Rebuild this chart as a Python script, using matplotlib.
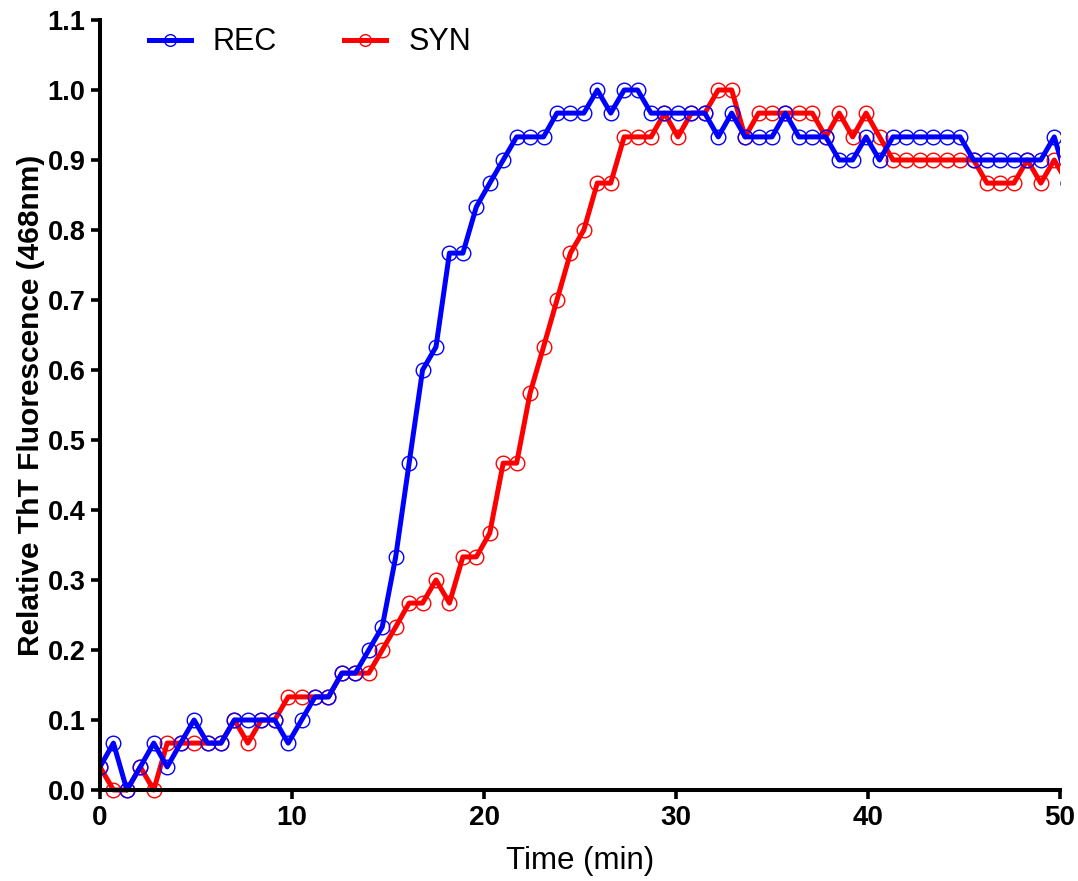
import matplotlib
matplotlib.use("Agg")
import matplotlib.pyplot as plt
from matplotlib.patches import Rectangle

# Time points (min), sampled every 0.7 min
time_min = [0.0, 0.7, 1.4, 2.1, 2.8, 3.5, 4.2, 4.9, 5.6, 6.3,
            7.0, 7.7, 8.4, 9.1, 9.8, 10.5, 11.2, 11.9, 12.6, 13.3,
            14.0, 14.7, 15.4, 16.1, 16.8, 17.5, 18.2, 18.9, 19.6, 20.3,
            21.0, 21.7, 22.4, 23.1, 23.8, 24.5, 25.2, 25.9, 26.6, 27.3,
            28.0, 28.7, 29.4, 30.1, 30.8, 31.5, 32.2, 32.9, 33.6, 34.3,
            35.0, 35.7, 36.4, 37.1, 37.8, 38.5, 39.2, 39.9, 40.6, 41.3,
            42.0, 42.7, 43.4, 44.1, 44.8, 45.5, 46.2, 46.9, 47.6, 48.3,
            49.0, 49.7, 50.4]

rec = [0.033, 0.067, 0.0, 0.033, 0.067, 0.033, 0.067, 0.1, 0.067, 0.067,
       0.1, 0.1, 0.1, 0.1, 0.067, 0.1, 0.133, 0.133, 0.167, 0.167,
       0.2, 0.233, 0.333, 0.467, 0.6, 0.633, 0.767, 0.767, 0.833, 0.867,
       0.9, 0.933, 0.933, 0.933, 0.967, 0.967, 0.967, 1.0, 0.967, 1.0,
       1.0, 0.967, 0.967, 0.967, 0.967, 0.967, 0.933, 0.967, 0.933, 0.933,
       0.933, 0.967, 0.933, 0.933, 0.933, 0.9, 0.9, 0.933, 0.9, 0.933,
       0.933, 0.933, 0.933, 0.933, 0.933, 0.9, 0.9, 0.9, 0.9, 0.9,
       0.9, 0.933, 0.867]

syn = [0.033, 0.0, 0.0, 0.033, 0.0, 0.067, 0.067, 0.067, 0.067, 0.067,
       0.1, 0.067, 0.1, 0.1, 0.133, 0.133, 0.133, 0.133, 0.167, 0.167,
       0.167, 0.2, 0.233, 0.267, 0.267, 0.3, 0.267, 0.333, 0.333, 0.367,
       0.467, 0.467, 0.567, 0.633, 0.7, 0.767, 0.8, 0.867, 0.867, 0.933,
       0.933, 0.933, 0.967, 0.933, 0.967, 0.967, 1.0, 1.0, 0.933, 0.967,
       0.967, 0.967, 0.967, 0.967, 0.933, 0.967, 0.933, 0.967, 0.933, 0.9,
       0.9, 0.9, 0.9, 0.9, 0.9, 0.9, 0.867, 0.867, 0.867, 0.9,
       0.867, 0.9, 0.867]

x_ticks = [0, 10, 20, 30, 40, 50]
y_ticks = [0.0, 0.1, 0.2, 0.3, 0.4, 0.5, 0.6, 0.7, 0.8, 0.9, 1.0, 1.1]

plt.rcParams['font.family'] = ['Liberation Sans', 'DejaVu Sans']

W, H = 1078, 881
fig = plt.figure(figsize=(W / 100, H / 100), dpi=100)
ax = fig.add_axes([100 / W, (H - 790) / H, (1060 - 100) / W, (790 - 20) / H])

blue = '#0000ff'
red = '#ff0000'
common = dict(linewidth=3.6, marker='o', markersize=10.5, markerfacecolor='none',
              markeredgewidth=1.0)
l_syn, = ax.plot(time_min, syn, color=red, markeredgecolor=red, label='SYN', **common)
l_rec, = ax.plot(time_min, rec, color=blue, markeredgecolor=blue, label='REC', **common)

clip = Rectangle((0, -0.05), 1.0, 1.1, transform=ax.transAxes, facecolor='none', edgecolor='none')
ax.add_patch(clip)
for ln in (l_syn, l_rec):
    ln.set_clip_path(clip)

ax.set_xlim(0, 50)
ax.set_ylim(0, 1.1)
ax.set_xticks(x_ticks)
ax.set_yticks(y_ticks)
ax.set_xticklabels([str(v) for v in x_ticks], fontsize=20, fontweight='bold')
ax.set_yticklabels([f'{v:.1f}' for v in y_ticks], fontsize=19.5, fontweight='bold')

for s in ('top', 'right'):
    ax.spines[s].set_visible(False)
for s in ('left', 'bottom'):
    ax.spines[s].set_linewidth(2.9)
    ax.spines[s].set_color('black')
ax.tick_params(axis='both', direction='out', length=6.5, width=2.6, pad=4, colors='black')

ax.set_xlabel('Time (min)', fontsize=22.5, labelpad=11)
ax.set_ylabel('Relative ThT Fluorescence (468nm)', fontsize=21.5, fontweight='bold', labelpad=2)

leg = ax.legend(handles=[l_rec, l_syn], loc='upper left', bbox_to_anchor=(0.0225, 1.026),
                ncol=2, frameon=False, fontsize=22, handlelength=1.37, columnspacing=2.2,
                handletextpad=0.72, markerscale=0.8)

fig.savefig('out.png', dpi=100)
